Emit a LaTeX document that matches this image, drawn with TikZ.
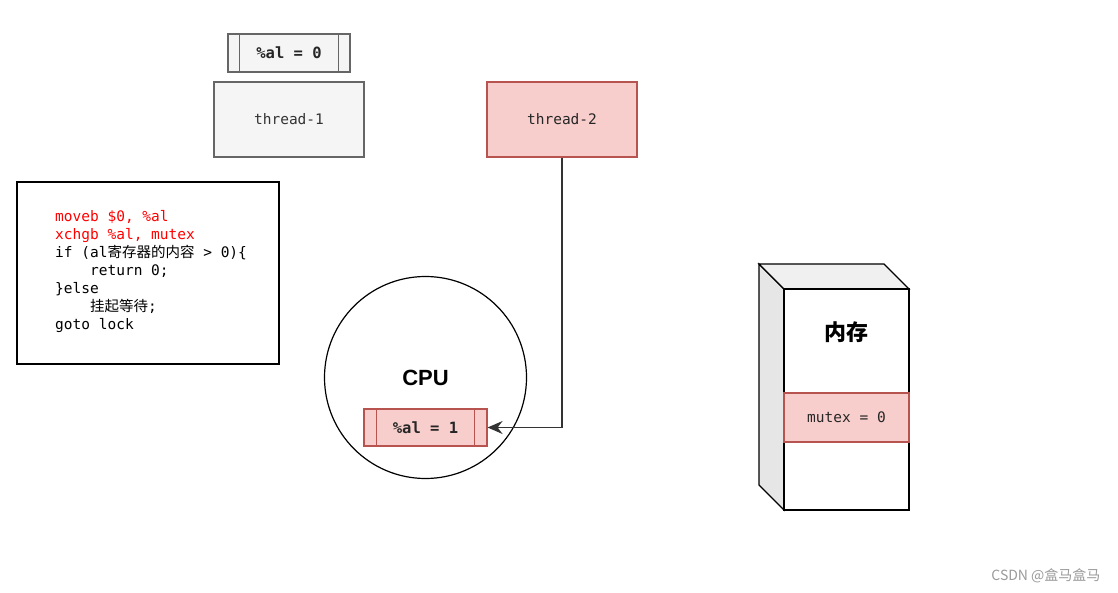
\documentclass[tikz,border=0pt]{standalone}
\usepackage{fontspec}
\setmainfont{Liberation Sans}
\setmonofont{DejaVu Sans Mono}
\newfontfamily\cjk{Noto Sans CJK SC}
\usetikzlibrary{arrows.meta}
\definecolor{greyfill}{HTML}{F5F5F5}
\definecolor{greyline}{HTML}{666666}
\definecolor{greytext}{HTML}{333333}
\definecolor{pinkfill}{HTML}{F8CECC}
\definecolor{pinkline}{HTML}{B85450}
\definecolor{codered}{HTML}{FF0000}
\definecolor{sidefill}{HTML}{E6E6E6}
\definecolor{topfill}{HTML}{F0F0F0}
\definecolor{wmark}{HTML}{9A9A9A}
\tikzset{
  greybox/.style={draw=greyline, fill=greyfill, line width=1.2pt, inner sep=0pt},
  pinkbox/.style={draw=pinkline, fill=pinkfill, line width=1.2pt, inner sep=0pt},
  monotext/.style={font=\ttfamily\fontsize{14.5}{18}\selectfont},
  boldmono/.style={font=\ttfamily\bfseries\fontsize{15.5}{18}\selectfont},
  conn/.style={draw=black!80, line width=1.2pt, -{Stealth[length=15pt,width=13pt,inset=5pt]}},
}
\begin{document}
\begin{tikzpicture}[x=1pt,y=-1pt]
\useasboundingbox (0,0) rectangle (1118,593);
% register %al = 0
\node[greybox, minimum width=122pt, minimum height=38pt, boldmono, text=black!85] (al0) at (289,53) {\%al = 0};
\draw[greyline, line width=1.2pt] ([xshift=12pt]al0.north west) -- ([xshift=12pt]al0.south west);
\draw[greyline, line width=1.2pt] ([xshift=-12pt]al0.north east) -- ([xshift=-12pt]al0.south east);
% threads
\node[greybox, minimum width=150pt, minimum height=75pt, monotext, text=greytext] (t1) at (289,119.5) {thread-1};
\node[pinkbox, minimum width=150pt, minimum height=75pt, monotext, text=black!85] (t2) at (562,119.5) {thread-2};
% code box
\node[draw=black, fill=white, line width=1.2pt, minimum width=262pt, minimum height=182pt, inner sep=0pt] (codebox) at (148,273) {};
\node[monotext, align=left, anchor=base west, inner sep=0pt] (code) at (55,330) {%
\textcolor{codered}{moveb \$0, \%al}\\
\textcolor{codered}{xchgb \%al, mutex}\\
if (al{\cjk 寄存器的内容} > 0)\{\\
\phantom{xxxx}return 0;\\
\}else\\
\phantom{xxxx}{\cjk 挂起等待};\\
goto lock};
% CPU
\node[draw=black, fill=white, circle, line width=1.2pt, minimum size=202pt, inner sep=0pt] (cpu) at (425.5,377.5) {};
\node[font=\bfseries\fontsize{22}{24}\selectfont] (cpulabel) at (425.5,378) {CPU};
\node[pinkbox, minimum width=123pt, minimum height=37pt, boldmono, text=black!85] (al1) at (425.5,427.5) {\%al = 1};
\draw[pinkline, line width=1.2pt] ([xshift=13pt]al1.north west) -- ([xshift=13pt]al1.south west);
\draw[pinkline, line width=1.2pt] ([xshift=-13pt]al1.north east) -- ([xshift=-13pt]al1.south east);
% memory cube
\draw[line width=1.2pt, fill=sidefill] (759,264) -- (784,289) -- (784,510) -- (759,485) -- cycle;
\draw[line width=1.2pt, fill=topfill] (759,264) -- (884,264) -- (909,289) -- (784,289) -- cycle;
\node[draw=black, fill=white, line width=1.2pt, minimum width=125pt, minimum height=221pt, inner sep=0pt] (mem) at (846.5,399.5) {};
\node[font=\cjk\bfseries\fontsize{22}{24}\selectfont] (memlabel) at (846.5,332) {内存};
\node[pinkbox, minimum width=125pt, minimum height=49pt, monotext, text=black!85] (mutex) at (846.5,417.5) {mutex = 0};
% connector
\draw[conn] (t2.south) |- (al1.east);
% watermark
\node[font=\cjk\fontsize{14}{16}\selectfont, text=wmark, anchor=east] (wm) at (1104,576) {CSDN @盒马盒马};
\end{tikzpicture}
\end{document}
